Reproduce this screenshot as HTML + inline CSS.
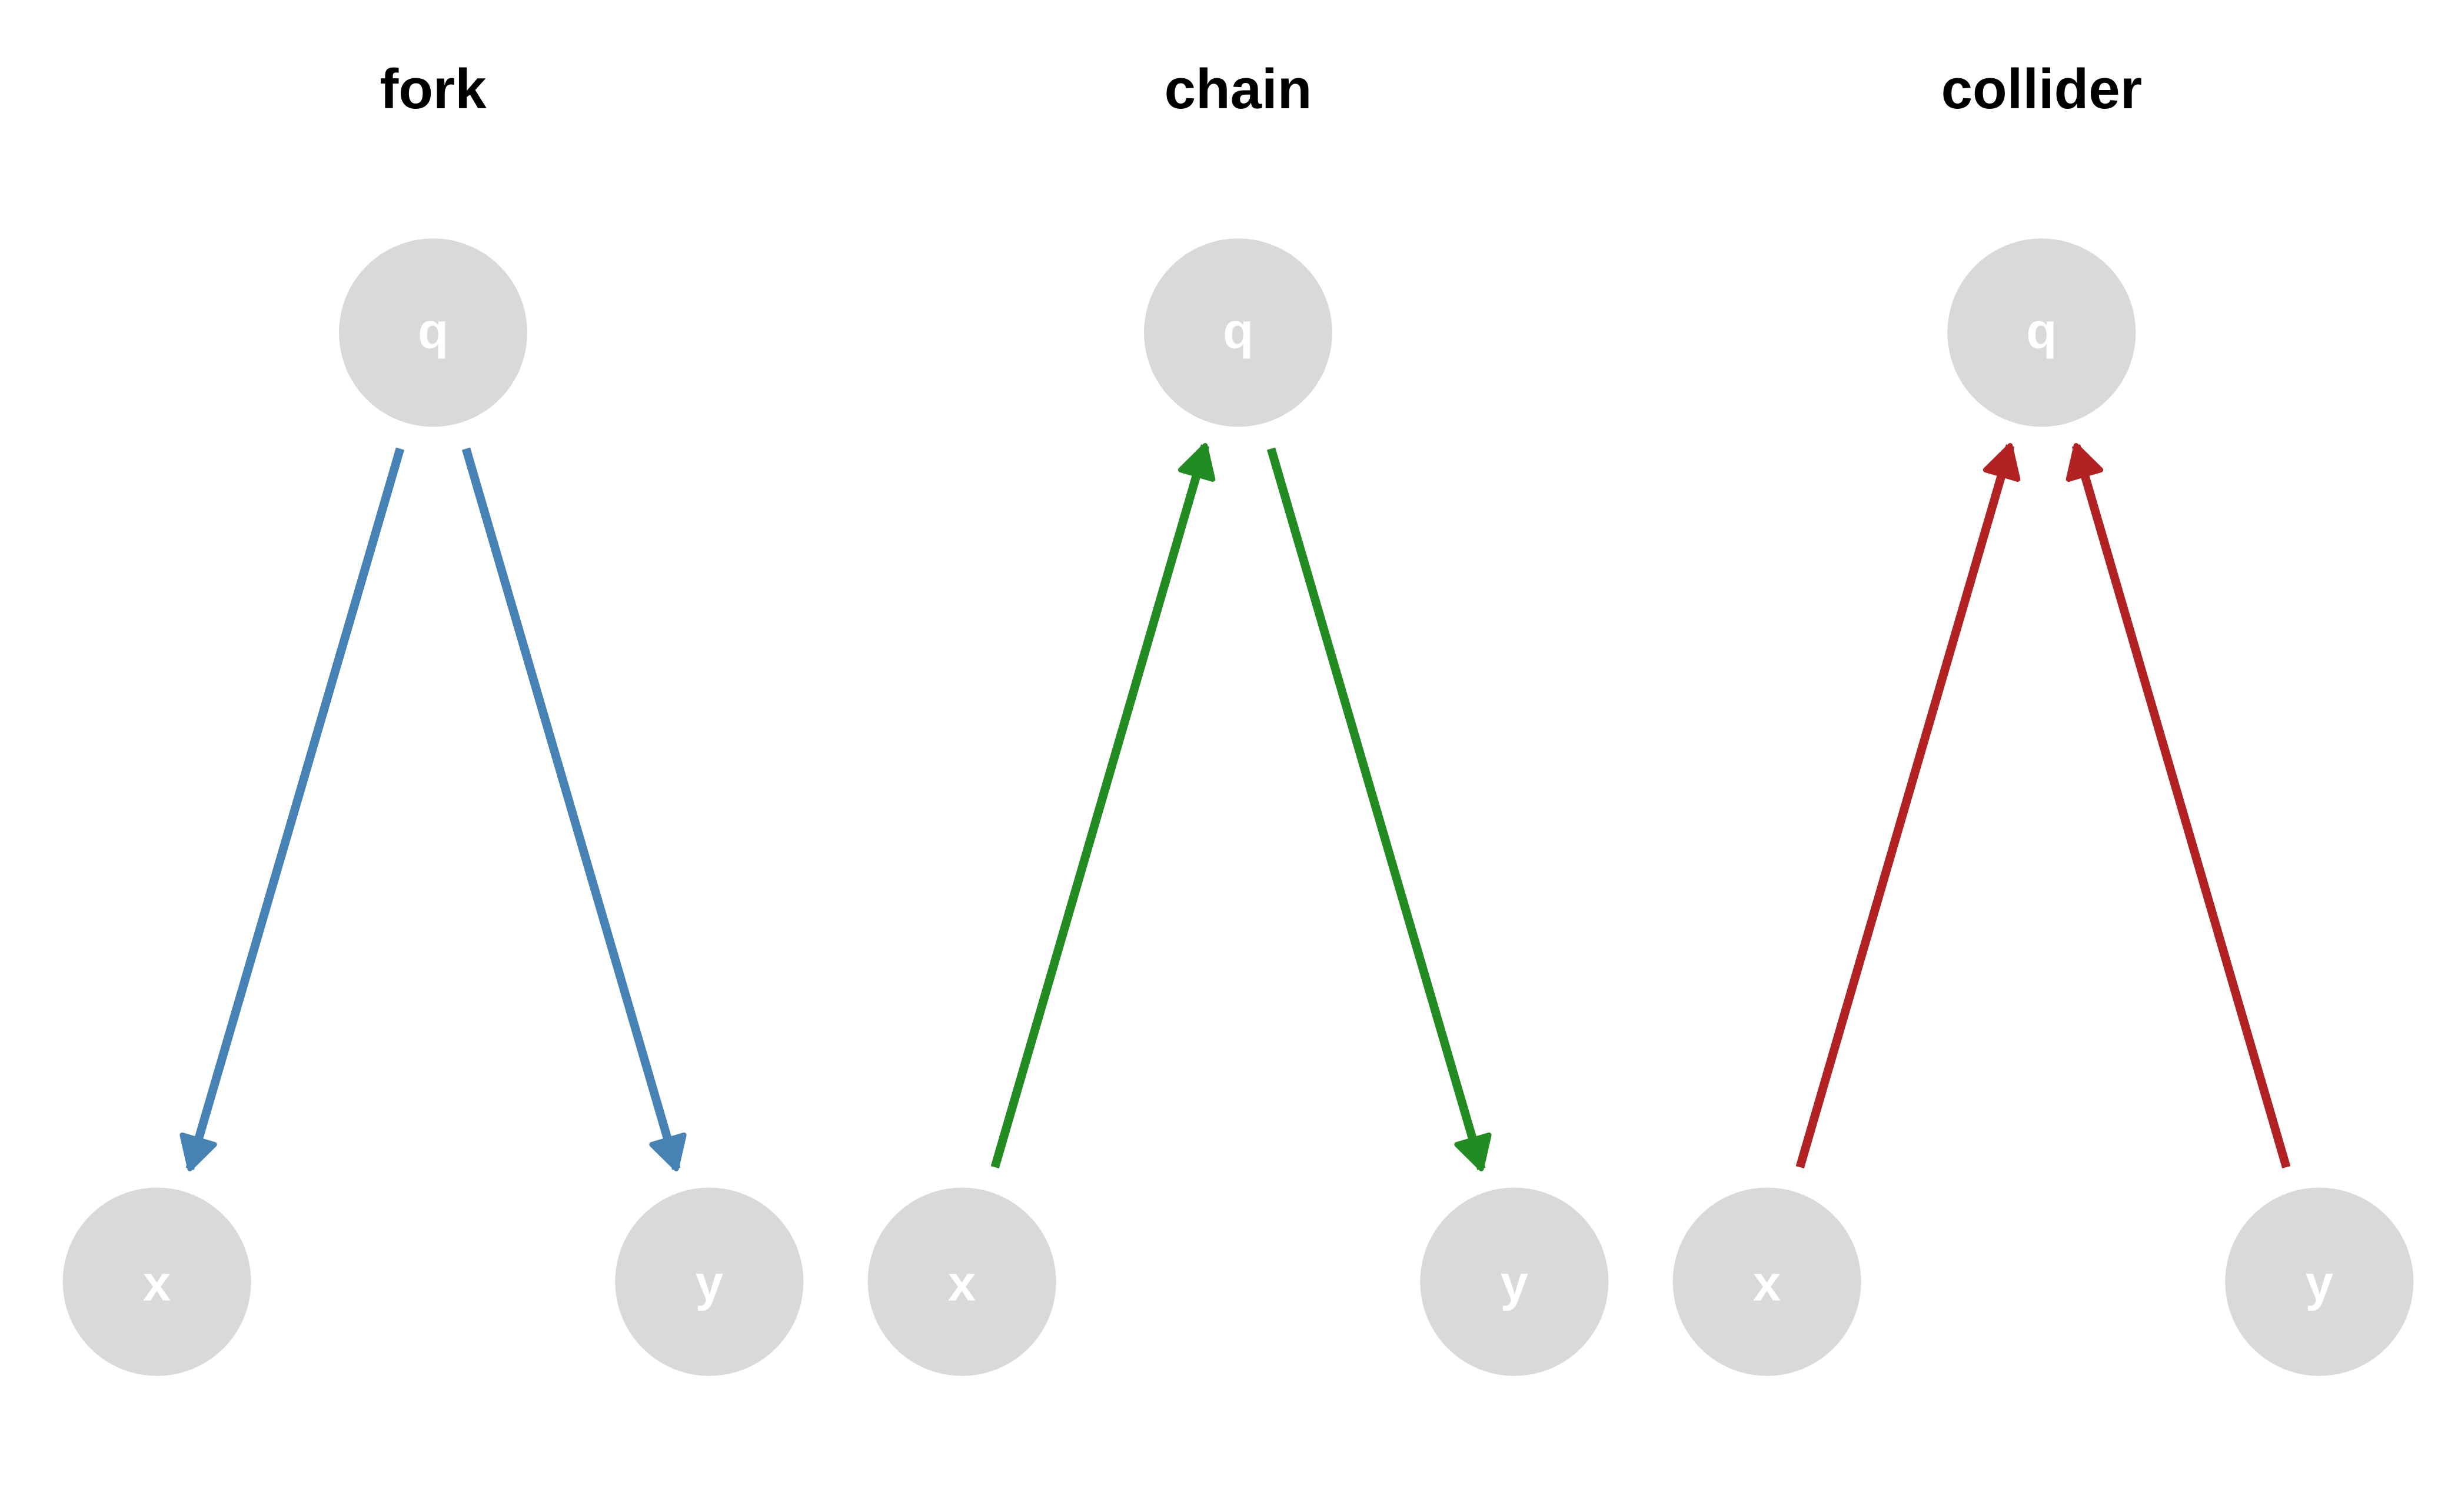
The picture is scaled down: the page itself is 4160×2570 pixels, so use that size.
<!DOCTYPE html>
<html><head><style>html,body{margin:0;padding:0;background:#fff}svg{display:block}</style></head>
<body>
<svg width="4160" height="2570" viewBox="0 0 1560 963.75" xmlns="http://www.w3.org/2000/svg">
<defs>
<marker id="mb" markerUnits="userSpaceOnUse" markerWidth="30" markerHeight="30" viewBox="-2 -14 24 28" refX="18" refY="0" orient="auto"><path d="M0,-10 L18,0 L0,10 Z" fill="#4682b4" stroke="#4682b4" stroke-width="3" stroke-linejoin="round"/></marker>
<marker id="mg" markerUnits="userSpaceOnUse" markerWidth="30" markerHeight="30" viewBox="-2 -14 24 28" refX="18" refY="0" orient="auto"><path d="M0,-10 L18,0 L0,10 Z" fill="#228b22" stroke="#228b22" stroke-width="3" stroke-linejoin="round"/></marker>
<marker id="mr" markerUnits="userSpaceOnUse" markerWidth="30" markerHeight="30" viewBox="-2 -14 24 28" refX="18" refY="0" orient="auto"><path d="M0,-10 L18,0 L0,10 Z" fill="#b22222" stroke="#b22222" stroke-width="3" stroke-linejoin="round"/></marker>
</defs>
<g font-family="Liberation Sans, sans-serif" font-weight="bold" text-anchor="middle">
<text x="276" y="69" font-size="36">fork</text>
<text x="789" y="69" font-size="36">chain</text>
<text x="1301" y="69" font-size="36">collider</text>
</g>
<g fill="#d9d9d9">
<circle cx="276" cy="212" r="60"/><circle cx="100" cy="817" r="60"/><circle cx="452" cy="817" r="60"/>
<circle cx="789" cy="212" r="60"/><circle cx="613" cy="817" r="60"/><circle cx="965" cy="817" r="60"/>
<circle cx="1301" cy="212" r="60"/><circle cx="1126" cy="817" r="60"/><circle cx="1478" cy="817" r="60"/>
</g>
<g font-family="Liberation Sans, sans-serif" font-weight="bold" font-size="32" fill="#fff" text-anchor="middle">
<text x="276" y="222">q</text><text x="100" y="829">x</text><text x="452" y="829">y</text>
<text x="789" y="222">q</text><text x="613" y="829">x</text><text x="965" y="829">y</text>
<text x="1301" y="222">q</text><text x="1126" y="829">x</text><text x="1478" y="829">y</text>
</g>
<g stroke-width="5.5" fill="none">
<line x1="255" y1="286" x2="121" y2="745" stroke="#4682b4" marker-end="url(#mb)"/>
<line x1="297" y1="286" x2="431" y2="745" stroke="#4682b4" marker-end="url(#mb)"/>
<line x1="634" y1="744" x2="768" y2="284" stroke="#228b22" marker-end="url(#mg)"/>
<line x1="810" y1="286" x2="944" y2="745" stroke="#228b22" marker-end="url(#mg)"/>
<line x1="1147" y1="744" x2="1281" y2="284" stroke="#b22222" marker-end="url(#mr)"/>
<line x1="1457" y1="744" x2="1323" y2="284" stroke="#b22222" marker-end="url(#mr)"/>
</g>
</svg>
</body></html>
